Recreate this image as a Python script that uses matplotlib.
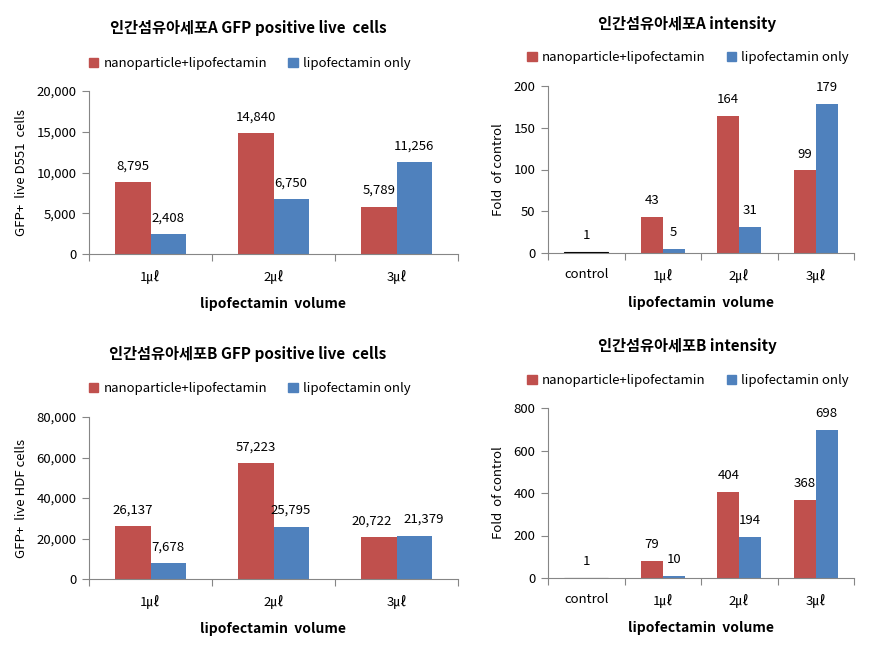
import matplotlib
matplotlib.use("Agg")
import matplotlib.pyplot as plt
from matplotlib.patches import Patch
import numpy as np

plt.rcParams['font.family'] = ['Noto Sans CJK KR', 'DejaVu Sans']

# data
volumes = ["1㎕", "2㎕", "3㎕"]
intensity_cats = ["control", "1㎕", "2㎕", "3㎕"]
series_names = ["nanoparticle+lipofectamin", "lipofectamin only"]

a_cells_nano = [8795, 14840, 5789]
a_cells_lipo = [2408, 6750, 11256]
b_cells_nano = [26137, 57223, 20722]
b_cells_lipo = [7678, 25795, 21379]

a_int_control = 1
a_int_nano = [43, 164, 99]
a_int_lipo = [5, 31, 179]
b_int_control = 1
b_int_nano = [79, 404, 368]
b_int_lipo = [10, 194, 698]

RED = "#C0504D"
BLUE = "#4F81BD"
AXC = "#868686"

fig = plt.figure(figsize=(8.69, 6.56), dpi=100)
W, H = 869, 656


def px_axes(l, t, r, b):
    return fig.add_axes([l / W, 1 - b / H, (r - l) / W, (b - t) / H])


def style(ax, cats, ymax, step, ylabel):
    n = len(cats)
    ax.set_xlim(-0.5, n - 0.5)
    ax.set_ylim(0, ymax)
    for s in ("top", "right"):
        ax.spines[s].set_visible(False)
    for s in ("left", "bottom"):
        ax.spines[s].set_color(AXC)
    ax.set_xticks(np.arange(n + 1) - 0.5)
    ax.set_xticklabels([])
    ax.set_xticks(np.arange(n), minor=True)
    ax.set_xticklabels(cats, minor=True, fontsize=9.5)
    ax.tick_params(axis="x", which="major", length=5, color=AXC, direction="out")
    ax.tick_params(axis="x", which="minor", length=0, pad=11)
    ticks = np.arange(0, ymax + 1, step)
    ax.set_yticks(ticks)
    ax.set_yticklabels([f"{int(v):,}" for v in ticks], fontsize=9.5)
    ax.tick_params(axis="y", length=5, color=AXC, direction="out", pad=4)
    ax.set_ylabel(ylabel, fontsize=9.5, labelpad=6)
    ax.set_xlabel("lipofectamin  volume", fontsize=10, fontweight="bold", labelpad=10)
    ax.patch.set_alpha(0)


def label(ax, x, v, dx=0):
    # dx nudges a label sideways (points) so close labels don't collide
    ax.annotate(f"{v:,}", (x, v), xytext=(dx, 7), textcoords="offset points",
                ha="center", va="bottom", fontsize=9.5)


def legend(ax, lx, ly):
    h = [Patch(color=RED), Patch(color=BLUE)]
    ax.legend(h, series_names, ncol=2, loc="center", bbox_to_anchor=(lx, ly),
              frameon=False, fontsize=9.5, handlelength=0.7, handleheight=0.7,
              handletextpad=0.4, columnspacing=1.6)


bw = 1 / 3.5

# panel 1
ax1 = px_axes(89, 91, 458, 254)
x = np.arange(len(volumes))
ax1.bar(x - bw / 2, a_cells_nano, bw, color=RED)
ax1.bar(x + bw / 2, a_cells_lipo, bw, color=BLUE)
for i in x:
    label(ax1, i - bw / 2, a_cells_nano[i])
    label(ax1, i + bw / 2, a_cells_lipo[i])
style(ax1, volumes, 20000, 5000, "GFP+  live D551  cells")
legend(ax1, 0.436, 1.17)
fig.text(248 / W, 1 - 28 / H, "인간섬유아세포A GFP positive live  cells", ha="center",
         va="center", fontsize=11, fontweight="bold")

# panel 3
ax3 = px_axes(89, 417, 458, 579)
ax3.bar(x - bw / 2, b_cells_nano, bw, color=RED)
ax3.bar(x + bw / 2, b_cells_lipo, bw, color=BLUE)
nudge = [(0, 0), (0, 0), (-5, 7)]
for i in x:
    label(ax3, i - bw / 2, b_cells_nano[i], nudge[i][0])
    label(ax3, i + bw / 2, b_cells_lipo[i], nudge[i][1])
style(ax3, volumes, 80000, 20000, "GFP+  live HDF cells")
legend(ax3, 0.436, 1.173)
fig.text(248 / W, 1 - 354 / H, "인간섬유아세포B GFP positive live  cells", ha="center",
         va="center", fontsize=11, fontweight="bold")

# intensity panels
for (l, t, r, b), ctrl, nano, lipo, ymax, step, ly, ty, ttl in [
    ((548, 86, 854, 253), a_int_control, a_int_nano, a_int_lipo, 200, 50, 1.168, 24,
     "인간섬유아세포A intensity"),
    ((548, 408, 854, 578), b_int_control, b_int_nano, b_int_lipo, 800, 200, 1.159, 346,
     "인간섬유아세포B intensity"),
]:
    ax = px_axes(l, t, r, b)
    xi = np.arange(1, len(intensity_cats))
    ax.bar([0], [ctrl], 2 * bw, color="black", edgecolor="black", linewidth=0.8)
    label(ax, 0, ctrl)
    ax.bar(xi - bw / 2, nano, bw, color=RED)
    ax.bar(xi + bw / 2, lipo, bw, color=BLUE)
    for j, i in enumerate(xi):
        label(ax, i - bw / 2, nano[j])
        label(ax, i + bw / 2, lipo[j])
    style(ax, intensity_cats, ymax, step, "Fold  of control")
    legend(ax, 0.458, ly)
    fig.text(687 / W, 1 - ty / H, ttl, ha="center", va="center", fontsize=11,
             fontweight="bold")

fig.savefig("out.png", dpi=100)
